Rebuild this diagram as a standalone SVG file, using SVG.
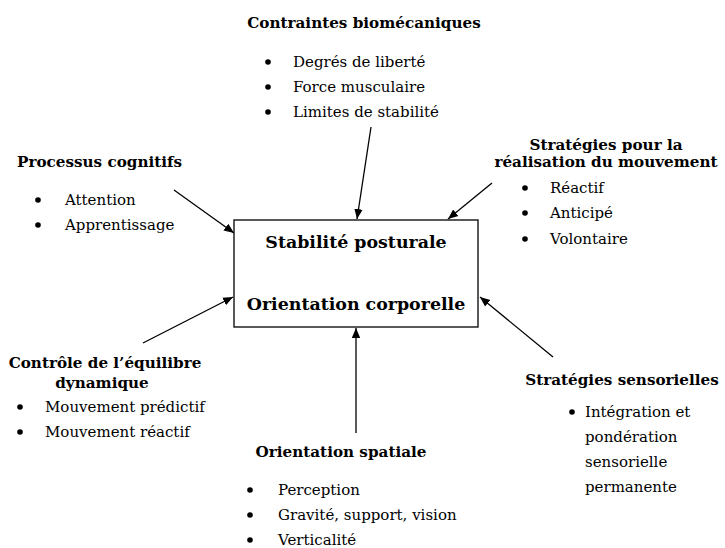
<svg xmlns="http://www.w3.org/2000/svg" width="725" height="548" viewBox="0 0 725 548">
<style>
text{font-family:"DejaVu Serif",serif;fill:#000}
.h{font-weight:bold;font-size:15.2px}
.t{font-size:15px}
.m{font-weight:bold;font-size:17.4px}
.c{stroke:#000;stroke-width:1.3;fill:none;marker-end:url(#ah)}
.b{fill:#000}
</style>
<defs>
<marker id="ah" viewBox="0 0 10 10" refX="10" refY="5" markerWidth="10" markerHeight="10" markerUnits="userSpaceOnUse" orient="auto">
<path d="M0,0.8 L10,5 L0,9.2 Z" fill="#000"/>
</marker>
</defs>
<g id="connectors">
<line class="c" x1="371" y1="127" x2="357" y2="219"/>
<line class="c" x1="492" y1="183" x2="448" y2="219"/>
<line class="c" x1="174" y1="190" x2="234" y2="233"/>
<line class="c" x1="143" y1="343" x2="233" y2="297"/>
<line class="c" x1="553" y1="357" x2="480" y2="297"/>
<line class="c" x1="356" y1="433" x2="356" y2="328"/>
</g>
<g id="center">
<rect x="234" y="220" width="244" height="107" fill="#fff" stroke="#000" stroke-width="1.3"/>
<text class="m" x="356" y="248" text-anchor="middle">Stabilité posturale</text>
<text class="m" x="356" y="310" text-anchor="middle">Orientation corporelle</text>
</g>
<g id="biomeca">
<text class="h" x="364" y="28" text-anchor="middle">Contraintes biomécaniques</text>
<circle class="b" cx="268" cy="62" r="2.8"/><text class="t" x="293" y="67">Degrés de liberté</text>
<circle class="b" cx="268" cy="87" r="2.8"/><text class="t" x="293" y="92">Force musculaire</text>
<circle class="b" cx="268" cy="112" r="2.8"/><text class="t" x="293" y="117">Limites de stabilité</text>
</g>
<g id="cognitifs">
<text class="h" x="17" y="167">Processus cognitifs</text>
<circle class="b" cx="38" cy="200" r="2.8"/><text class="t" x="65" y="205">Attention</text>
<circle class="b" cx="38" cy="225" r="2.8"/><text class="t" x="65" y="230">Apprentissage</text>
</g>
<g id="strategies-mvt">
<text class="h" x="606" y="150" text-anchor="middle">Stratégies pour la</text>
<text class="h" x="606" y="167" text-anchor="middle">réalisation du mouvement</text>
<circle class="b" cx="525" cy="188" r="2.8"/><text class="t" x="550" y="193">Réactif</text>
<circle class="b" cx="525" cy="213" r="2.8"/><text class="t" x="550" y="218">Anticipé</text>
<circle class="b" cx="525" cy="239" r="2.8"/><text class="t" x="550" y="244">Volontaire</text>
</g>
<g id="equilibre">
<text class="h" x="105" y="368" text-anchor="middle">Contrôle de l’équilibre</text>
<text class="h" x="102" y="388" text-anchor="middle">dynamique</text>
<circle class="b" cx="20" cy="407" r="2.8"/><text class="t" x="45" y="412">Mouvement prédictif</text>
<circle class="b" cx="20" cy="432" r="2.8"/><text class="t" x="45" y="437">Mouvement réactif</text>
</g>
<g id="sensorielles">
<text class="h" x="622" y="385" text-anchor="middle">Stratégies sensorielles</text>
<circle class="b" cx="572" cy="412" r="2.8"/>
<text class="t" x="585" y="417">Intégration et</text>
<text class="t" x="585" y="442">pondération</text>
<text class="t" x="585" y="467">sensorielle</text>
<text class="t" x="585" y="492">permanente</text>
</g>
<g id="spatiale">
<text class="h" x="341" y="457" text-anchor="middle">Orientation spatiale</text>
<circle class="b" cx="250" cy="490" r="2.8"/><text class="t" x="278" y="495">Perception</text>
<circle class="b" cx="250" cy="515" r="2.8"/><text class="t" x="278" y="520">Gravité, support, vision</text>
<circle class="b" cx="250" cy="540" r="2.8"/><text class="t" x="278" y="545">Verticalité</text>
</g>
</svg>
